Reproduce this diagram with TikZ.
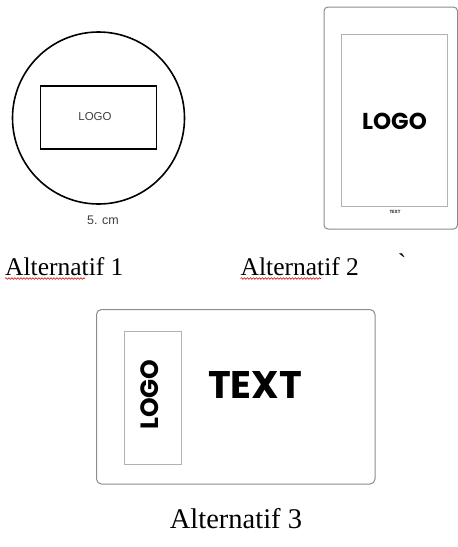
\documentclass[tikz,border=0pt]{standalone}
\usepackage{fontspec}
\setmainfont{Liberation Serif}
\newfontfamily\arialf{Liberation Sans}
\newfontfamily\popf{Poppins}[UprightFont=* Bold]
\newfontfamily\plainserif{Liberation Serif}[Ligatures=TeXOff]
\usetikzlibrary{decorations.pathmorphing}
\begin{document}
\begin{tikzpicture}[x=1pt,y=-1pt,
  caption/.style={inner sep=0pt,anchor=base west,font=\fontsize{25.5}{26}\selectfont},
  squig/.style={draw=red!85!black,line width=0.6pt,decorate,decoration={snake,amplitude=0.8pt,segment length=3pt}},
  graybox/.style={draw=black!45,line width=1pt,rounded corners=4pt},
  thinbox/.style={draw=black!30,line width=0.8pt}]
\useasboundingbox (0,0) rectangle (458,547);
% Alternatif 1
\node[draw,circle,line width=1.6pt,minimum size=172pt,inner sep=0pt] (c1) at (98.5,118) {};
\node[draw,line width=1.6pt,minimum width=116pt,minimum height=63pt,inner sep=0pt] (r1) at (98.5,117.5) {};
\node[font=\arialf\fontsize{11.5}{12}\selectfont,text=black!75] (l1) at (95,117) {LOGO};
\node[font=\arialf\fontsize{12.5}{13}\selectfont,text=black!75] (d1) at (103,220.5) {5. cm};
\node[caption] (a1) at (5,275) {Alternatif 1};
\draw[squig] (5,278.5) -- (85,278.5);
% Alternatif 2
\draw[graybox] (324,7) rectangle (457.5,229);
\node[thinbox,minimum width=106pt,minimum height=172pt,inner sep=0pt] (r2) at (394,120) {};
\node[font=\popf\fontsize{23}{23}\selectfont] (l2) at (394.5,121.5) {LOGO};
\node[font=\popf\fontsize{4.5}{5}\selectfont,text=black!80] (t2) at (395,212) {TEXT};
\node[caption] (a2) at (240.5,275) {Alternatif 2};
\draw[squig] (240.5,278.5) -- (321,278.5);
\node[font=\plainserif\fontsize{25.5}{26}\selectfont,inner sep=0pt] (bt) at (402,263) {`};
% Alternatif 3
\draw[graybox,rounded corners=5pt] (96.5,309.5) rectangle (375,484);
\node[thinbox,minimum width=57.5pt,minimum height=133pt,inner sep=0pt] (r3) at (153,397.5) {};
\node[font=\popf\fontsize{25}{25}\selectfont,rotate=90] (l3) at (150,394.5) {LOGO};
\node[font=\popf\fontsize{38.5}{39}\selectfont] (t3) at (255,385) {TEXT};
\node[font=\fontsize{28.5}{29}\selectfont,inner sep=0pt] (a3) at (236,519) {Alternatif 3};
\end{tikzpicture}
\end{document}
